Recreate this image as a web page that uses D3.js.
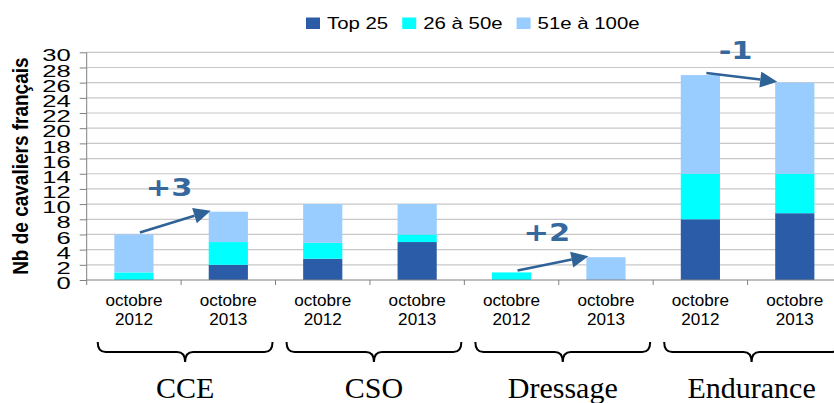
<!DOCTYPE html>
<html>
<head>
<meta charset="utf-8">
<script src="https://cdn.jsdelivr.net/npm/d3@7"></script>
<style>
body { margin: 0; background: #fff; }
text { font-family: "Liberation Sans", Arial, sans-serif; fill: #000; }
</style>
</head>
<body>
<script>
// groups (disciplines) and the two dates shown inside each group
var groups = ["CCE", "CSO", "Dressage", "Endurance"];
var periods = [["octobre", "2012"], ["octobre", "2013"]];

// riders per ranking band, one value per bar (group x date)
var top25 = [0, 2, 2.8, 5, 0, 0, 8, 8.8];
var rank26to50 = [1, 3, 2.1, 1, 1, 0, 6, 5.2];
var rank51to100 = [5, 4, 5.1, 4, 0, 3, 13, 12];

var seriesNames = ["Top 25", "26 à 50e", "51e à 100e"];
var seriesColors = ["#2b5ca8", "#00ffff", "#99ccff"];
var yTicks = d3.range(0, 31, 2);
var yTitle = "Nb de cavaliers français";

var W = 834, H = 403;
var plotL = 86.7, plotR = 842, plotB = 280, plotT = 52.3;

var svg = d3.select("body").append("svg")
  .attr("width", W)
  .attr("height", H);

// one row per bar
var rows = d3.range(groups.length * periods.length).map(function(i) {
  var r = {id: i, group: Math.floor(i / 2), period: i % 2};
  r[seriesNames[0]] = top25[i];
  r[seriesNames[1]] = rank26to50[i];
  r[seriesNames[2]] = rank51to100[i];
  r.total = top25[i] + rank26to50[i] + rank51to100[i];
  return r;
});

var x = d3.scaleBand()
  .domain(rows.map(function(d) { return d.id; }))
  .range([plotL, plotR])
  .paddingInner(0.585)
  .paddingOuter(0.2925);

var y = d3.scaleLinear().domain([0, 30]).range([plotB, plotT]);

var color = d3.scaleOrdinal().domain(seriesNames).range(seriesColors);

// edge between category slots (outer padding is half the inner one)
function boundary(i) { return plotL + i * x.step(); }

// gridlines
svg.append("g").selectAll("line")
  .data(yTicks.slice(1))
  .enter().append("line")
  .attr("x1", plotL).attr("x2", W)
  .attr("y1", function(d) { return y(d); })
  .attr("y2", function(d) { return y(d); })
  .attr("stroke", "#c8c8c8")
  .attr("stroke-width", 1.2);

// stacked bars
var stacked = d3.stack().keys(seriesNames)(rows);
svg.append("g").selectAll("g")
  .data(stacked)
  .enter().append("g")
  .attr("fill", function(d) { return color(d.key); })
  .selectAll("rect")
  .data(function(d) { return d; })
  .enter().append("rect")
  .attr("x", function(d) { return x(d.data.id); })
  .attr("width", x.bandwidth())
  .attr("y", function(d) { return y(d[1]); })
  .attr("height", function(d) { return y(d[0]) - y(d[1]); });

// y axis
var yAxis = svg.append("g")
  .attr("transform", "translate(" + plotL + ",0)")
  .call(d3.axisLeft(y).tickValues(yTicks).tickSize(7).tickSizeOuter(0));
yAxis.select(".domain").attr("stroke", "#808080").attr("d", "M0," + plotT + "V" + (plotB + 5));
yAxis.selectAll(".tick line").attr("stroke", "#808080");
yAxis.selectAll(".tick text")
  .attr("x", 0).attr("dy", "0.55em")
  .attr("transform", "translate(-16,0) scale(1.62,1)")
  .style("font-size", "15.8px")
  .attr("fill", "#000");

svg.append("text")
  .attr("transform", "translate(28," + (plotB + plotT) / 2 + ") scale(1.2,1) rotate(-90)")
  .attr("text-anchor", "middle")
  .style("font-size", "19px")
  .style("font-weight", "bold")
  .text(yTitle);

// x axis line and boundary ticks
svg.append("line")
  .attr("x1", plotL).attr("x2", W)
  .attr("y1", plotB).attr("y2", plotB)
  .attr("stroke", "#808080");
svg.append("g").selectAll("line")
  .data(rows.slice(1))
  .enter().append("line")
  .attr("x1", function(d) { return boundary(d.id); })
  .attr("x2", function(d) { return boundary(d.id); })
  .attr("y1", plotB).attr("y2", plotB + 5)
  .attr("stroke", "#808080");

// date labels
var lab = svg.append("g").selectAll("text")
  .data(rows)
  .enter().append("text")
  .attr("text-anchor", "middle")
  .style("font-size", "16.3px")
  .attr("transform", function(d) {
    return "translate(" + (x(d.id) + x.bandwidth() / 2) + ",0) scale(1.05,1)"; });
lab.append("tspan").attr("x", 0).attr("y", 306)
  .text(function(d) { return periods[d.period][0]; });
lab.append("tspan").attr("x", 0).attr("y", 325)
  .text(function(d) { return periods[d.period][1]; });

// curly braces under each group
function brace(x0, x1) {
  var xc = (x0 + x1) / 2, yT = 342, yM = 352, yP = 362, r = 8;
  return "M" + x0 + "," + yT + "Q" + x0 + "," + yM + " " + (x0 + r) + "," + yM +
    "L" + (xc - r) + "," + yM + "Q" + xc + "," + yM + " " + xc + "," + yP +
    "Q" + xc + "," + yM + " " + (xc + r) + "," + yM +
    "L" + (x1 - r) + "," + yM + "Q" + x1 + "," + yM + " " + x1 + "," + yT;
}
var grp = svg.append("g").selectAll("g")
  .data(groups)
  .enter().append("g");
grp.append("path")
  .attr("d", function(d, i) { return brace(boundary(i * 2) + 11, boundary(i * 2 + 2) - 3); })
  .attr("fill", "none")
  .attr("stroke", "#000")
  .attr("stroke-width", 2);
grp.append("text")
  .attr("x", function(d, i) { return (boundary(i * 2) + boundary(i * 2 + 2)) / 2 + 4; })
  .attr("y", 398)
  .attr("text-anchor", "middle")
  .style("font-family", "'Liberation Serif', 'Times New Roman', serif")
  .style("font-size", "30px")
  .text(function(d) { return d; });

// change arrows between the two dates
var changes = groups.map(function(g, i) {
  var a = rows[i * 2], b = rows[i * 2 + 1];
  return {group: i, a: a, b: b, delta: Math.round(b.total - a.total)};
}).filter(function(d) { return d.delta !== 0; });

var arrowColor = "#2f6296";
var ann = svg.append("g").selectAll("g")
  .data(changes)
  .enter().append("g");
ann.each(function(d) {
  var g = d3.select(this);
  var x0 = x(d.a.id) + x.bandwidth() / 2 + 6, y0 = y(d.a.total) - 2;
  var x1 = x(d.b.id) + 2, y1 = y(d.b.total) - 1;
  var ang = Math.atan2(y1 - y0, x1 - x0), hl = 17, hw = 8;
  var bx = x1 - hl * Math.cos(ang), by = y1 - hl * Math.sin(ang);
  g.append("line")
    .attr("x1", x0).attr("y1", y0).attr("x2", bx).attr("y2", by)
    .attr("stroke", arrowColor).attr("stroke-width", 2.5);
  g.append("path")
    .attr("d", "M" + x1 + "," + y1 +
      "L" + (bx + hw * Math.sin(ang)) + "," + (by - hw * Math.cos(ang)) +
      "L" + (bx - hw * Math.sin(ang)) + "," + (by + hw * Math.cos(ang)) + "Z")
    .attr("fill", arrowColor);
  var cx = boundary(d.group * 2 + 1) - 12;
  var ty = Math.min(y(d.a.total), y(d.b.total)) - 16;
  g.append("text")
    .attr("transform", "translate(" + cx + "," + ty + ") scale(1.22,1)")
    .attr("text-anchor", "middle")
    .style("font-family", "'DejaVu Sans', Verdana, sans-serif")
    .style("font-weight", "bold")
    .style("font-size", "25px")
    .style("fill", "#36679d")
    .text((d.delta > 0 ? "+" : "") + d.delta);
});

// legend
var lx = 306;
var leg = svg.append("g");
seriesNames.forEach(function(name) {
  leg.append("rect")
    .attr("x", lx).attr("y", 17.5)
    .attr("width", 14).attr("height", 11.5)
    .attr("fill", color(name));
  var t = leg.append("text")
    .attr("transform", "translate(" + (lx + 21) + ",29) scale(1.2,1)")
    .style("font-size", "17px")
    .text(name);
  lx += 21 + t.node().getComputedTextLength() * 1.2 + 14;
});
</script>
</body>
</html>
